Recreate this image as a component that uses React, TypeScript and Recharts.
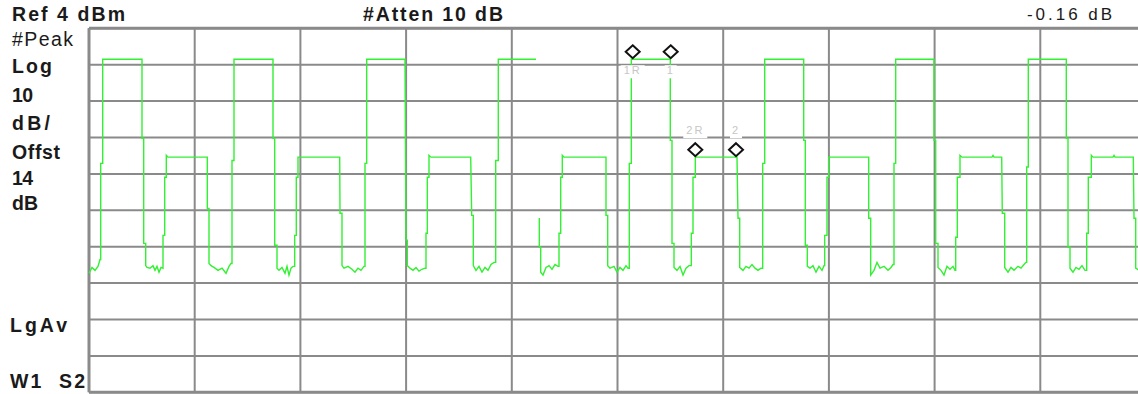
import {
  CartesianGrid,
  ComposedChart,
  Line,
  ReferenceLine,
  Scatter,
  XAxis,
  YAxis,
} from "recharts";

// sweep bins across the 10 horizontal divisions (the screen is cropped on the right)
const sweepTicks = [0, 105.7, 211.4, 317.1, 422.8, 528.5, 634.2, 739.9, 845.6, 951.3, 1057];
// Ref 4 dBm, 10 dB/div
const levelTicks = [4, -6, -16, -26, -36, -46, -56, -66, -76, -86, -96];

// [sweep bin, dBm], up to the sweep update gap
const traceBeforeGap: [number, number][] = [
  [0, -63.3], [3, -61.7], [6, -62.5], [9, -61.4], [11, -59.5],
  [11.7, -59.5], [11.7, -33.1], [13.7, -33.1], [13.7, -4.5], [53, -4.5], [53, -26.2], [54.7, -26.2], [54.7, -55.1], [56.7, -55.1], [56.7, -61.2],
  [58, -61.7], [61, -61.9], [64, -61.2], [66, -62.5], [68, -61.4], [70, -63.0], [72, -61.7],
  [74, -61.9], [74, -52.9], [75.7, -52.9], [75.7, -36.9], [77.3, -36.9], [77.3, -30.9], [79, -31.4], [118.3, -31.4], [118.3, -45.5], [120, -45.5], [120, -60.6],
  [122, -61.2], [125, -61.7], [129, -62.5], [133, -61.9], [137, -63.3], [140, -61.4], [142, -60.6],
  [143, -60.6], [143, -32.3], [145, -32.3], [145, -4.5], [184, -4.5], [184, -26.2], [185.7, -26.2], [185.7, -55.6], [188, -55.6], [188, -61.9],
  [190, -62.5], [193, -61.7], [196, -63.3], [198, -61.4], [200, -63.8], [202, -61.9], [204, -61.4],
  [205.7, -61.4], [205.7, -52.9], [207.3, -52.9], [207.3, -36.9], [209, -36.9], [209, -31.4], [250.7, -31.4], [251, -46.8], [253, -46.8], [253, -61.2],
  [255, -61.9], [259, -61.4], [263, -62.2], [266, -63.0], [269, -61.9], [272, -62.5], [275, -61.4],
  [276, -61.4], [276, -33.1], [277.7, -33.1], [277.7, -4.5], [316, -4.5], [317, -54.2], [318.3, -54.2], [318.3, -61.2],
  [321, -61.9], [324, -62.5], [327, -61.7], [330, -62.7], [333, -62.2], [336, -61.9],
  [337, -61.9], [337, -52.3], [338.3, -52.3], [338.3, -36.9], [340, -36.9], [340, -30.9], [342, -31.4], [381.7, -31.4], [382.7, -47.4], [384.3, -47.4], [384.3, -61.2],
  [387, -62.5], [390, -61.4], [393, -63.0], [396, -61.7], [399, -62.5], [402, -60.9], [405, -60.3],
  [406.7, -60.3], [406.7, -32.3], [409.3, -32.3], [409.3, -4.5], [447, -4.5],
];

// [sweep bin, dBm] after the gap
const traceAfterGap: [number, number][] = [
  [450.3, -48.1], [450.3, -56.1], [451.7, -56.1], [451.7, -63.0],
  [454, -63.8], [457, -61.7], [460, -61.2], [463, -62.2], [466, -60.9], [469, -61.4],
  [470, -61.4], [470, -52.3], [471.7, -52.3], [471.7, -36.9], [473.3, -36.9], [473.3, -30.9], [475, -31.4], [517, -31.4], [517, -47.4], [518.7, -47.4], [518.7, -61.2],
  [521, -61.9], [525, -61.4], [528, -63.0], [531, -61.7], [534, -62.5], [537, -61.2], [539, -61.9],
  [540.3, -61.9], [540.3, -33.1], [542.3, -33.1], [542.3, -4.5], [581.3, -4.5], [581.3, -26.8], [583, -26.8], [583, -55.1], [585, -55.1], [585, -61.7],
  [588, -62.5], [591, -61.4], [594, -63.8], [597, -61.9], [600, -61.2],
  [602.3, -61.2], [602.3, -52.3], [604, -52.3], [604, -36.9], [606.3, -36.9], [606.3, -31.4], [648, -31.4], [649, -48.2], [650.7, -48.2], [650.7, -61.7],
  [654, -62.5], [657, -61.4], [660, -61.9], [663, -60.9], [666, -61.9], [669, -62.5], [672, -61.9],
  [673.7, -61.9], [673.7, -33.1], [675.7, -33.1], [675.7, -4.5], [714.7, -4.5], [714.7, -26.8], [716.3, -26.8], [716.3, -55.6], [718.3, -55.6], [718.3, -61.4],
  [721, -61.9], [724, -61.2], [727, -63.0], [730, -61.4], [733, -62.5], [735, -61.2],
  [735.7, -61.2], [735.7, -52.9], [738, -52.9], [738, -36.9], [739.7, -36.9], [739.7, -31.4], [779.7, -31.4], [779.7, -48.2], [781.7, -48.2], [781.7, -63.8],
  [785, -62.5], [788, -60.3], [791, -61.9], [795, -61.4], [799, -62.5], [802, -61.7], [804, -60.9],
  [805, -60.9], [805, -33.1], [806.7, -33.1], [806.7, -4.5], [845, -4.5], [845, -26.8], [846.7, -26.8], [846.7, -55.1], [849, -55.1], [849, -61.7],
  [852, -62.5], [855, -63.8], [858, -61.4], [861, -62.2], [864, -61.4], [866, -62.5],
  [866.7, -62.5], [866.7, -53.4], [868.3, -53.4], [868.3, -36.9], [871, -36.9], [871, -30.9], [873, -31.4], [903, -31.4], [904, -30.9], [905, -31.4], [912.7, -31.4], [913.3, -46.8], [915.7, -46.8], [915.7, -61.7],
  [919, -63.0], [922, -61.7], [925, -62.5], [929, -61.4], [932, -61.9], [935, -60.9], [937, -60.3],
  [937.7, -60.3], [937.7, -34.1], [939.3, -34.1], [939.3, -4.5], [977.3, -4.5], [977.3, -26.2], [979, -26.2], [979, -56.1], [981, -56.1], [981, -61.9],
  [984, -63.0], [987, -61.7], [990, -62.2], [993, -61.2], [996, -62.5],
  [997.7, -62.5], [997.7, -52.3], [999.3, -52.3], [999.3, -36.9], [1002.3, -36.9], [1002.3, -30.9], [1004, -31.4], [1024, -31.4], [1025, -30.9], [1026, -31.4], [1044.3, -31.4], [1045, -48.2], [1046.7, -48.2], [1046.7, -61.9],
  [1050, -62.5], [1054, -61.7], [1057, -62.2],
];

const markerNames = ["1R", "1", "2R", "2"];
const markerBins = [543.7, 581.7, 606.3, 647];
const markerDbm = [-4.5, -4.5, -31.4, -31.4];

const headerLeft = "Ref 4 dBm";
const headerMid = "#Atten 10 dB";
const headerRight = "-0.16 dB";
const sideLabels = ["#Peak", "Log", "10", "dB/", "Offst", "14", "dB"];
const footLabels = ["LgAv", "W1  S2"];

const toRows = (pts: [number, number][]) => pts.map(([x, dbm]) => ({ x, dbm }));
const markers = markerNames.map((name, i) => ({ name, x: markerBins[i], dbm: markerDbm[i] }));

const GRID = "#8a8a8a";
const TRACE = "#33f033";
const FONT = "'Liberation Sans', Arial, sans-serif";

function Diamond(props: any) {
  const { cx, cy, payload } = props;
  if (cx == null || cy == null) return null;
  const top = payload.dbm > -20;
  const c = cy - 7.5;
  const ly = top ? cy + 15 : cy - 23;
  const w = payload.name.length > 1 ? 20 : 8;
  return (
    <g>
      <rect x={cx - w / 2 - 2} y={ly - 9} width={w + 4} height={13} fill="#fff" />
      <text
        x={cx}
        y={ly}
        textAnchor="middle"
        fontSize={11}
        fontFamily={FONT}
        fill="#c6c6c6"
        letterSpacing={2}
      >
        {payload.name}
      </text>
      <path
        d={`M${cx},${c - 6.5} L${cx + 7},${c} L${cx},${c + 6.5} L${cx - 7},${c} Z`}
        fill="#fff"
        stroke="#111"
        strokeWidth={2}
      />
    </g>
  );
}

const sideBaselines = [46, 72.5, 101.5, 130, 159, 185, 209.5];
const sideWidths = [61, 40, 21, 38, 48, 21, 26];

export default function App() {
  return (
    <div
      style={{
        position: "absolute",
        left: 0,
        top: 0,
        width: 1138,
        height: 394,
        overflow: "hidden",
        background: "#fff",
      }}
    >
      <ComposedChart
        width={1150}
        height={394}
        margin={{ top: 28.3, right: 4, bottom: 1.7, left: 89 }}
      >
        <XAxis
          type="number"
          dataKey="x"
          domain={[0, 1057]}
          ticks={sweepTicks}
          hide
        />
        <YAxis
          type="number"
          dataKey="dbm"
          domain={[-96, 4]}
          ticks={levelTicks}
          hide
        />
        <CartesianGrid stroke={GRID} strokeWidth={2} />
        <ReferenceLine x={0} stroke={GRID} strokeWidth={3} />
        <ReferenceLine y={4} stroke={GRID} strokeWidth={3} />
        <ReferenceLine y={-96} stroke={GRID} strokeWidth={3} />
        <Line
          data={toRows(traceBeforeGap)}
          dataKey="dbm"
          type="linear"
          stroke={TRACE}
          strokeWidth={1.4}
          dot={false}
          isAnimationActive={false}
        />
        <Line
          data={toRows(traceAfterGap)}
          dataKey="dbm"
          type="linear"
          stroke={TRACE}
          strokeWidth={1.4}
          dot={false}
          isAnimationActive={false}
        />
        <Scatter data={markers} shape={Diamond} isAnimationActive={false} />
      </ComposedChart>
      <svg
        width={1138}
        height={394}
        style={{ position: "absolute", left: 0, top: 0, pointerEvents: "none" }}
        fontFamily={FONT}
        fill="#1a1a1a"
      >
        <text x={12} y={20.5} fontSize={19.5} fontWeight="bold" textLength={113} lengthAdjust="spacing">
          {headerLeft}
        </text>
        <text x={363} y={20.5} fontSize={19.5} fontWeight="bold" textLength={140} lengthAdjust="spacing">
          {headerMid}
        </text>
        <text x={1027} y={20} fontSize={17} textLength={85} lengthAdjust="spacing">
          {headerRight}
        </text>
        {sideLabels.map((t, i) => (
          <text
            key={t + i}
            x={12}
            y={sideBaselines[i]}
            fontSize={19.5}
            fontWeight={i === 0 ? "normal" : "bold"}
            textLength={sideWidths[i]}
            lengthAdjust="spacing"
          >
            {t}
          </text>
        ))}
        <text x={10} y={332} fontSize={19.5} fontWeight="bold" textLength={57} lengthAdjust="spacing">
          {footLabels[0]}
        </text>
        <text x={10} y={388} fontSize={19.5} fontWeight="bold" textLength={75} lengthAdjust="spacing" xmlSpace="preserve">
          {footLabels[1]}
        </text>
      </svg>
    </div>
  );
}
